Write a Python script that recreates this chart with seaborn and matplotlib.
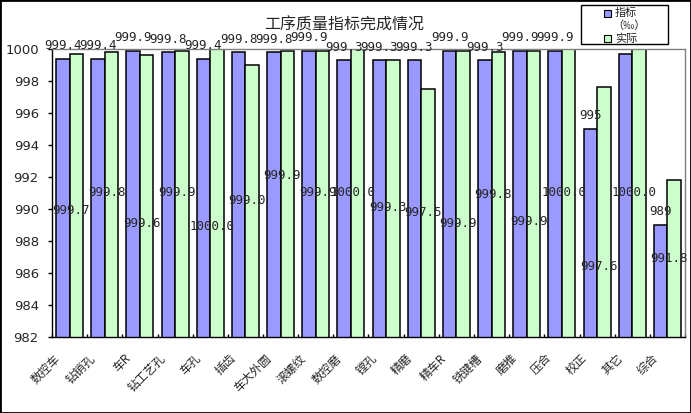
import pandas as pd
import matplotlib.pyplot as plt
import matplotlib.transforms as mtransforms
from matplotlib.patches import Rectangle
import seaborn as sns

# 工序名称
gongxu = ["数控车", "钻销孔", "车R", "钻工艺孔", "车孔", "插齿", "车大外圆", "滚螺纹", "数控磨",
          "镗孔", "精磨", "精车R", "铣键槽", "磨推", "压合", "校正", "其它", "综合"]

# 指标（‰）
zhibiao = [999.4, 999.4, 999.9, 999.8, 999.4, 999.8, 999.8, 999.9, 999.3,
           999.3, 999.3, 999.9, 999.3, 999.9, 999.9, 995.0, 999.7, 989.0]

# 实际
shiji = [999.7, 999.8, 999.6, 999.9, 1000.0, 999.0, 999.9, 999.9, 1000.0,
         999.3, 997.5, 999.9, 999.8, 999.9, 1000.0, 997.6, 1000.0, 991.8]

# 实际值标签的高度（原图里这些标签落在柱子中间）
shiji_label_y = [989.9, 991.0, 989.1, 991.0, 988.9, 990.5, 992.1, 991.0, 991.0,
                 990.1, 989.8, 989.1, 990.9, 989.2, 991.0, 986.4, 991.0, 986.9]

yticks = list(range(982, 1001, 2))

serie_nomes = ["指标", "实际"]
cores = ["#9999FF", "#CCFFCC"]

df = pd.DataFrame({
    "工序": gongxu * 2,
    "值": zhibiao + shiji,
    "系列": [serie_nomes[0]] * len(gongxu) + [serie_nomes[1]] * len(gongxu),
})

sns.set_style("white")
plt.rcParams["font.family"] = ["Noto Sans CJK SC", "DejaVu Sans"]

W, H = 691, 413
fig = plt.figure(figsize=(W / 100, H / 100), dpi=100)
ax = fig.add_axes([52 / W, 76 / H, 633 / W, 288 / H])

sns.barplot(data=df, x="工序", y="值", hue="系列", order=gongxu, hue_order=serie_nomes,
            palette=cores, width=0.77, errorbar=None, edgecolor="black",
            linewidth=1.1, saturation=1, legend=False, ax=ax)

ax.set_ylim(982, 1000)
ax.set_xlim(-0.5, len(gongxu) - 0.5)
ax.set_yticks(yticks)
ax.set_yticklabels([str(v) for v in yticks], family="DejaVu Sans", fontsize=9.5)
ax.set_xlabel("")
ax.set_ylabel("")

# 数据标签
for barra, v in zip(ax.containers[0], zhibiao):
    ax.annotate(f"{v:g}", (barra.get_x() + barra.get_width() / 2, v),
                xytext=(0, 9.5), textcoords="offset points",
                ha="center", va="center", family="DejaVu Sans Mono", fontsize=9)
for i, (v, y) in enumerate(zip(shiji, shiji_label_y)):
    ax.text(i + 0.05, y, f"{v:.1f}", ha="center", va="center",
            family="DejaVu Sans Mono", fontsize=9)

# 坐标轴
for lado in ["top", "right"]:
    ax.spines[lado].set_visible(True)
    ax.spines[lado].set_color("#808080")
    ax.spines[lado].set_linewidth(1.0)
for lado in ["left", "bottom"]:
    ax.spines[lado].set_color("black")
    ax.spines[lado].set_linewidth(1.0)

ax.tick_params(axis="y", direction="out", length=3, width=1, color="black", pad=6.5, left=True)
ax.set_xticks([i - 0.5 for i in range(len(gongxu) + 1)], minor=True)
ax.tick_params(axis="x", which="minor", direction="in", length=2.5, width=1, color="black", bottom=True)
ax.tick_params(axis="x", which="major", length=0, pad=14)

desloc = mtransforms.ScaledTranslation(-11.6 / 100, 0, fig.dpi_scale_trans)
for rot in ax.get_xticklabels():
    rot.set_rotation(45)
    rot.set_ha("right")
    rot.set_va("center")
    rot.set_rotation_mode("anchor")
    rot.set_fontsize(8.5)
    rot.set_transform(rot.get_transform() + desloc)

# 图例（手工画框）
def px(x, y):
    return x / W, 1 - y / H

fig.add_artist(Rectangle(px(581, 44), 87 / W, 39 / H, transform=fig.transFigure,
                         facecolor="white", edgecolor="black", linewidth=1.0, zorder=5))
for cor, yc in zip(cores, [13, 38]):
    fig.add_artist(Rectangle(px(604, yc + 3.5), 7 / W, 7 / H, transform=fig.transFigure,
                             facecolor=cor, edgecolor="black", linewidth=0.8, zorder=6))
fig.text(*px(615, 12.5), "指标", ha="left", va="center", fontsize=8, zorder=6)
fig.text(*px(612, 25.5), "（‰）", ha="left", va="center", fontsize=8, zorder=6)
fig.text(*px(615, 38.5), "实际", ha="left", va="center", fontsize=8, zorder=6)

fig.text(344 / W, 1 - 25 / H, "工序质量指标完成情况", ha="center", va="center", fontsize=11.5)

fig.patches.append(Rectangle((0, 0), 1, 1, transform=fig.transFigure, fill=False,
                             edgecolor="black", linewidth=2, zorder=10))

fig.savefig("out.png", dpi=100, facecolor="white")
